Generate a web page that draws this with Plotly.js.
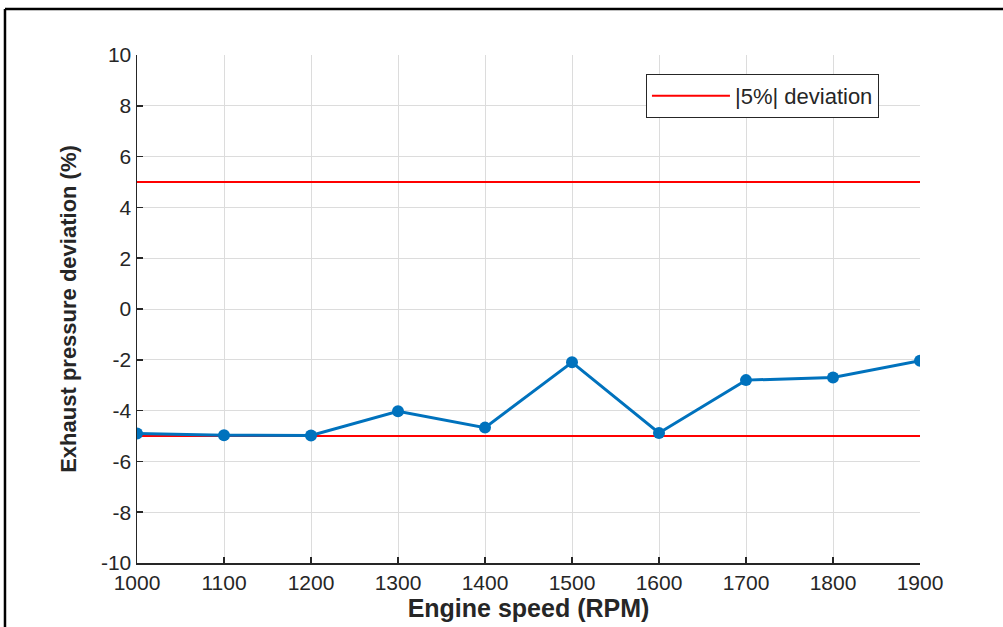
<!DOCTYPE html>
<html>
<head>
<meta charset="utf-8">
<script src="https://cdn.plot.ly/plotly-3.0.1.min.js"></script>
<style>
html,body{margin:0;padding:0;background:#fff;}
#chart{width:1003px;height:627px;}
</style>
</head>
<body>
<div id="chart"></div>
<script>
const engineSpeed = [1000, 1100, 1200, 1300, 1400, 1500, 1600, 1700, 1800, 1900];
const pressureDeviation = [-4.90, -4.97, -4.98, -4.03, -4.67, -2.10, -4.88, -2.80, -2.70, -2.04];
const limitX = [1000, 1900, null, 1000, 1900];
const limitY = [5, 5, null, -5, -5];
const xTicks = [1000, 1100, 1200, 1300, 1400, 1500, 1600, 1700, 1800, 1900];
const yTicks = [-10, -8, -6, -4, -2, 0, 2, 4, 6, 8, 10];

const traces = [
  {
    x: limitX, y: limitY, mode: 'lines', name: '|5%| deviation',
    line: {color: '#FF0000', width: 2}, connectgaps: false, showlegend: true
  },
  {
    x: engineSpeed, y: pressureDeviation, mode: 'lines+markers', name: 'deviation',
    line: {color: '#0072BD', width: 3},
    marker: {color: '#0072BD', size: 12},
    showlegend: false
  }
];

const axisCommon = {
  showgrid: true, gridcolor: '#DCDCDC', gridwidth: 1,
  showline: true, linecolor: '#262626', linewidth: 1.5,
  ticks: 'inside', ticklen: 6, tickcolor: '#262626', tickwidth: 1.5,
  zeroline: false, mirror: false,
  tickfont: {family: 'Liberation Sans, Arial, sans-serif', size: 21, color: '#262626'}
};

const layout = {
  width: 1003, height: 627,
  margin: {l: 137, r: 83, t: 55, b: 64},
  paper_bgcolor: '#fff', plot_bgcolor: '#fff',
  font: {family: 'Liberation Sans, Arial, sans-serif', color: '#262626'},
  xaxis: Object.assign({}, axisCommon, {
    range: [1000, 1900], tickvals: xTicks, ticktext: xTicks.map(String),
    title: {text: 'Engine speed (RPM)', font: {size: 25, color: '#262626', weight: 'bold'}, standoff: 6}
  }),
  yaxis: Object.assign({}, axisCommon, {
    range: [-10, 10], tickvals: yTicks, ticktext: yTicks.map(String),
    title: {text: 'Exhaust pressure deviation (%)', font: {size: 22, color: '#262626', weight: 'bold'}, standoff: 18}
  }),
  legend: {
    x: 0.650, y: 0.9626, xanchor: 'left', yanchor: 'top',
    bgcolor: '#fff', bordercolor: '#262626', borderwidth: 1,
    font: {size: 22, color: '#262626'}, itemwidth: 78
  },
  shapes: [
    {type: 'line', xref: 'paper', yref: 'paper', x0: -0.1686, x1: 1.2, y0: 1.0906, y1: 1.0906, line: {color: '#000', width: 2.5}},
    {type: 'line', xref: 'paper', yref: 'paper', x0: -0.1686, x1: -0.1686, y0: -0.2, y1: 1.0906, line: {color: '#000', width: 2.5}}
  ],
  showlegend: true
};

Plotly.newPlot('chart', traces, layout, {displayModeBar: false, staticPlot: true});
</script>
</body>
</html>
